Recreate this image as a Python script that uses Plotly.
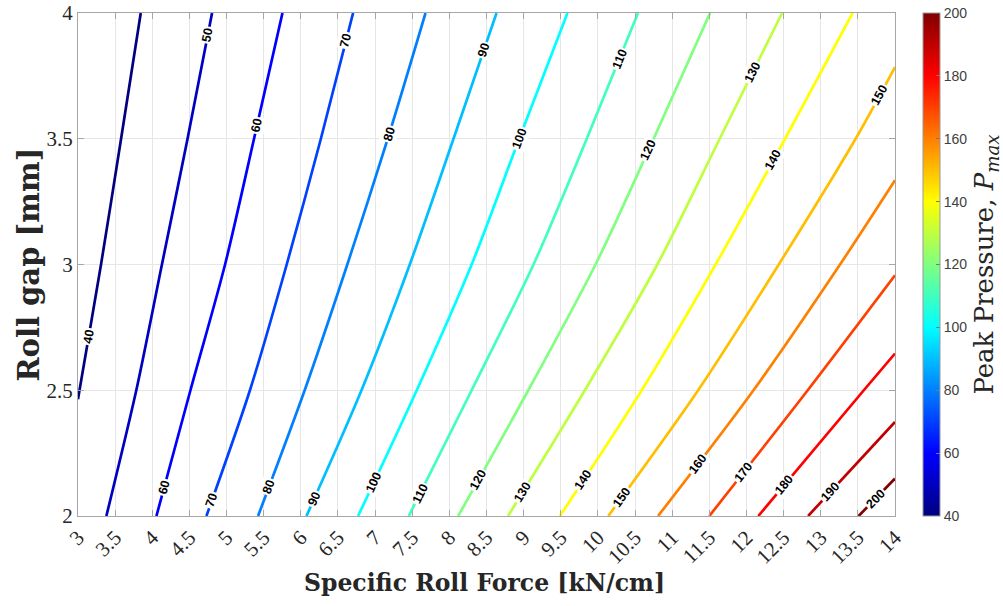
import math
import numpy as np
import plotly.graph_objects as go
from plotly.colors import sample_colorscale

# Peak pressure iso-lines: specific roll force [kN/cm] at given roll gaps [mm]
levels = [40, 50, 60, 70, 80, 90, 100, 110, 120, 130, 140, 150, 160, 170, 180, 190, 200]

line_gap = [
    [2.464, 2.5, 3.0, 3.5, 4.0],      # 40
    [2.0, 2.5, 3.0, 3.5, 4.0],        # 50
    [2.0, 2.5, 3.0, 3.5, 4.0],        # 60
    [2.0, 2.5, 3.0, 3.5, 4.0],        # 70
    [2.0, 2.5, 3.0, 3.5, 4.0],        # 80
    [2.0, 2.5, 3.0, 3.5, 4.0],        # 90
    [2.0, 2.5, 3.0, 3.5, 4.0],        # 100
    [2.0, 2.5, 3.0, 3.5, 4.0],        # 110
    [2.0, 2.5, 3.0, 3.5, 4.0],        # 120
    [2.0, 2.5, 3.0, 3.5, 4.0],        # 130
    [2.0, 2.5, 3.0, 3.5, 4.0],        # 140
    [2.0, 2.5, 3.0, 3.5, 3.785],      # 150
    [2.0, 2.5, 3.0, 3.335],           # 160
    [2.0, 2.5, 2.957],                # 170
    [2.0, 2.5, 2.646],                # 180
    [2.0, 2.374],                     # 190
    [2.0, 2.149],                     # 200
]

line_force = [
    [3.00, 3.02, 3.31, 3.58, 3.845],
    [3.382, 3.785, 4.13, 4.475, 4.805],
    [4.056, 4.514, 4.98, 5.37, 5.753],
    [4.729, 5.315, 5.81, 6.27, 6.704],
    [5.424, 6.052, 6.626, 7.17, 7.679],
    [6.076, 6.817, 7.467, 8.056, 8.635],
    [6.771, 7.561, 8.30, 8.94, 9.59],
    [7.454, 8.30, 9.133, 9.85, 10.54],
    [8.118, 9.063, 9.968, 10.75, 11.51],
    [8.79, 9.824, 10.80, 11.64, 12.48],
    [9.488, 10.59, 11.585, 12.52, 13.43],
    [10.14, 11.35, 12.435, 13.47, 14.0],
    [10.81, 12.095, 13.26, 14.0],
    [11.50, 12.825, 14.0],
    [12.16, 13.58, 14.0],
    [12.83, 14.0],
    [13.51, 14.0],
]

# roll gaps at which each iso-line carries its inline label
label_gap = [
    [2.712], [3.911], [2.115, 3.553], [2.062, 3.891], [2.115, 3.52],
    [2.069, 3.852], [2.135, 3.50], [2.089, 3.819], [2.142, 3.454],
    [2.095, 3.765], [2.142, 3.414], [2.076, 3.673], [2.208], [2.175],
    [2.122], [2.095], [2.069],
]

x_ticks = [3 + 0.5 * i for i in range(23)]
y_ticks = [2, 2.5, 3, 3.5, 4]
cbar_ticks = [40, 60, 80, 100, 120, 140, 160, 180, 200]

# MATLAB-style jet colormap
jet = [
    [0.0, "rgb(0,0,128)"],
    [0.125, "rgb(0,0,255)"],
    [0.375, "rgb(0,255,255)"],
    [0.625, "rgb(255,255,0)"],
    [0.875, "rgb(255,0,0)"],
    [1.0, "rgb(128,0,0)"],
]
zmin, zmax = 40, 200

W, H = 1003, 606
M = dict(l=78, r=108, t=13, b=90)
x_range = [3, 14]
y_range = [2, 4]
px_per_x = (W - M["l"] - M["r"]) / (x_range[1] - x_range[0])
px_per_y = (H - M["t"] - M["b"]) / (y_range[1] - y_range[0])

TITLE_FONT = "DejaVu Serif, Liberation Serif"
TICK_FONT = "Liberation Serif, DejaVu Serif"

fig = go.Figure()
annotations = []

for lvl, gs, fs, lgs in zip(levels, line_gap, line_force, label_gap):
    color = sample_colorscale(jet, [(lvl - zmin) / (zmax - zmin)])[0]
    fig.add_trace(go.Scatter(
        x=fs, y=gs, mode="lines",
        line=dict(color=color, width=2.7, shape="spline", smoothing=0.8),
        hoverinfo="skip", showlegend=False,
    ))
    g_arr = np.array(gs)
    f_arr = np.array(fs)
    for lg in lgs:
        lf = float(np.interp(lg, g_arr, f_arr))
        k = int(np.clip(np.searchsorted(g_arr, lg) - 1, 0, len(g_arr) - 2))
        dF = (f_arr[k + 1] - f_arr[k]) * px_per_x
        dG = (g_arr[k + 1] - g_arr[k]) * px_per_y
        ang = math.degrees(math.atan2(dG, dF))
        annotations.append(dict(
            x=lf, y=lg, xref="x", yref="y", text=f"<b>{lvl}</b>",
            showarrow=False, textangle=-ang, bgcolor="white", borderpad=1,
            font=dict(family="Liberation Sans, Arial", size=12.5, color="black"),
        ))

# colour bar carrier
fig.add_trace(go.Scatter(
    x=[None], y=[None], mode="markers", hoverinfo="skip", showlegend=False,
    marker=dict(
        color=[zmin], cmin=zmin, cmax=zmax, colorscale=jet, showscale=True,
        colorbar=dict(
            thickness=17, thicknessmode="pixels", len=1.0, lenmode="fraction",
            x=1.0347, xanchor="left", xpad=0, y=0.5, yanchor="middle", ypad=0,
            tickvals=cbar_ticks, ticks="inside", ticklen=4, tickcolor="#777",
            tickfont=dict(family="Liberation Sans, Arial", size=14, color="#404040"),
            outlinewidth=1, outlinecolor="#999",
            title=dict(
                text="Peak Pressure, <i>P</i><sub><i>max</i></sub>",
                side="right",
                font=dict(family=TITLE_FONT, size=26, color="#262626"),
            ),
        ),
    ),
))

annotations.append(dict(
    text="<b>Specific Roll Force [kN/cm]</b>", xref="paper", yref="paper",
    x=0.498, y=-0.134, showarrow=False, xanchor="center", yanchor="middle",
    font=dict(family=TITLE_FONT, size=23.5, color="#262626"),
))
annotations.append(dict(
    text="<b>Roll gap [mm]</b>", xref="paper", yref="paper",
    x=-0.06, y=0.5, showarrow=False, xanchor="center", yanchor="middle",
    textangle=-90,
    font=dict(family=TITLE_FONT, size=29, color="#262626"),
))

axis_common = dict(
    showgrid=True, gridcolor="#e6e6e6", gridwidth=1,
    showline=True, linecolor="#a6a6a6", linewidth=1, mirror="allticks",
    ticks="inside", ticklen=6, tickcolor="#a6a6a6", zeroline=False,
    tickfont=dict(family=TICK_FONT, size=21, color="#262626"),
)

fig.update_xaxes(range=x_range, tickvals=x_ticks,
                 ticktext=[f"{v:g}" for v in x_ticks], tickangle=-45, **axis_common)
fig.update_yaxes(range=y_range, tickvals=y_ticks,
                 ticktext=[f"{v:g}" for v in y_ticks], **axis_common)

fig.update_layout(
    width=W, height=H,
    margin=dict(l=M["l"], r=M["r"], t=M["t"], b=M["b"], autoexpand=False),
    plot_bgcolor="white", paper_bgcolor="white",
    annotations=annotations,
)

fig.write_html("out.html")
